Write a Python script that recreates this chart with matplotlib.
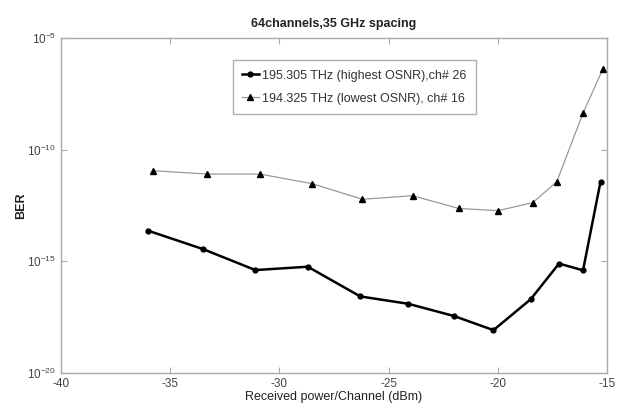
import matplotlib
matplotlib.use("Agg")
import matplotlib.pyplot as plt
import numpy as np

plt.rcParams['font.family'] = ['Liberation Sans', 'DejaVu Sans']
plt.rcParams['axes.unicode_minus'] = False

power_high = [-36.0, -33.5, -31.1, -28.7, -26.3, -24.1, -22.0, -20.2, -18.5, -17.2, -16.1, -15.3]
ber_high_exp = [-13.63, -14.45, -15.39, -15.24, -16.57, -16.9, -17.45, -18.08, -16.7, -15.1, -15.4, -11.43]
power_low = [-35.8, -33.3, -30.9, -28.5, -26.2, -23.9, -21.8, -20.0, -18.4, -17.3, -16.1, -15.2]
ber_low_exp = [-10.94, -11.09, -11.09, -11.52, -12.22, -12.06, -12.63, -12.73, -12.37, -11.43, -8.36, -6.40]

label_high = "195.305 THz (highest OSNR),ch# 26"
label_low = "194.325 THz (lowest OSNR), ch# 16"
title = "64channels,35 GHz spacing"
xlabel = "Received power/Channel (dBm)"
ylabel = "BER"

fig = plt.figure(figsize=(6.22, 4.07), dpi=100)
ax = fig.add_axes([0.098, 0.0835, 0.878, 0.823])

ber_high = 10.0 ** np.array(ber_high_exp)
ber_low = 10.0 ** np.array(ber_low_exp)

ax.plot(power_high, ber_high, color='black', lw=1.8, marker='o', ms=3.5, label=label_high)
ax.plot(power_low, ber_low, color='#999999', lw=0.9, ls='-', marker='^', ms=4.5,
        mfc='black', mec='black', label=label_low)

ax.set_yscale('log')
ax.set_xlim(-40, -15)
ax.set_ylim(1e-20, 1e-5)
ax.set_yticks([1e-20, 1e-15, 1e-10, 1e-5])
ax.set_xticks([-40, -35, -30, -25, -20, -15])
ax.yaxis.set_minor_locator(matplotlib.ticker.NullLocator())

for s in ax.spines.values():
    s.set_color('#aaaaaa')
    s.set_linewidth(1.0)
ax.tick_params(direction='in', top=True, right=True, colors='#aaaaaa', labelcolor='#444444',
               labelsize=8.5, length=4)

ax.set_title(title, fontsize=9, fontweight='bold', color='#222222', pad=8)
ax.set_xlabel(xlabel, fontsize=9, color='#222222', labelpad=1)
ax.set_ylabel(ylabel, fontsize=9, color='#222222', fontweight='bold')
ax.yaxis.set_label_coords(-0.062, 0.5)

leg = ax.legend(loc='upper left', bbox_to_anchor=(0.315, 0.934), borderaxespad=0, fontsize=9,
                frameon=True, fancybox=False, borderpad=0.75, handlelength=1.3,
                labelspacing=0.9, handletextpad=0.3)
leg.get_frame().set_edgecolor('#999999')
leg.get_frame().set_linewidth(1.0)
for t in leg.get_texts():
    t.set_color('#333333')

fig.savefig('out.png', dpi=100)
